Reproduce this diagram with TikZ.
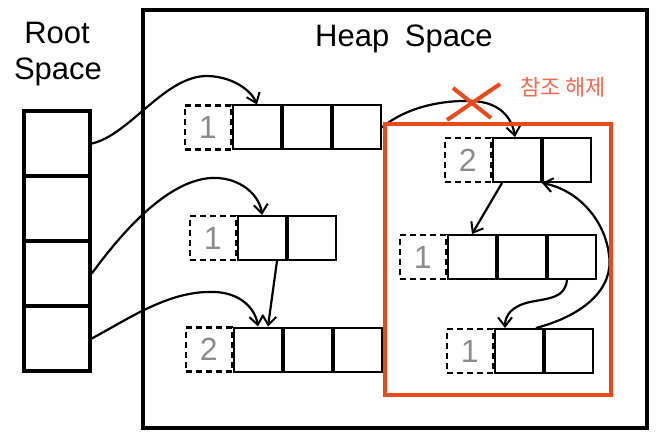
\documentclass[tikz,border=0pt]{standalone}
\usepackage{fontspec}
\setmainfont{Liberation Sans}
\newfontfamily\krfont{Noto Sans CJK KR}
\usetikzlibrary{positioning,arrows.meta}
\definecolor{cutred}{HTML}{E84A1B}
\definecolor{cutlabel}{HTML}{F26A50}
\definecolor{countgray}{HTML}{8C8C8C}
\begin{document}
\begin{tikzpicture}[x=1pt, y=-1pt,
	rootcell/.style={draw=black, line width=3.6pt, minimum width=66pt, minimum height=65pt, inner sep=0pt},
	cell/.style={draw=black, line width=2pt, minimum width=48pt, minimum height=44pt, inner sep=0pt},
	tag/.style={draw=black, line width=2.4pt, dash pattern=on 6pt off 4pt, minimum width=46pt, minimum height=44pt, inner sep=0pt, text=countgray, font=\fontsize{32}{32}\selectfont},
	ref/.style={line width=2.2pt, -{Straight Barb[length=9pt, width=14pt, line width=2pt]}},
	title/.style={font=\fontsize{31}{31}\selectfont, anchor=base}]
	\useasboundingbox (0,0) rectangle (662,441);

	% spaces
	\draw[line width=4pt] (143,10) rectangle (647,428);
	\node[title] (rootlbl)  at (57,44)  {Root};
	\node[title] (spacelbl) at (58,80)  {Space};
	\node[title] (heaplbl)  at (404,47) {Heap\enspace Space};

	% root space
	\node[rootcell] (r1) at (57,143.5) {};
	\node[rootcell] (r2) at (57,208.5) {};
	\node[rootcell] (r3) at (57,273.5) {};
	\node[rootcell] (r4) at (57,338.5) {};

	% heap objects, left column
	\node[cell]                   (a1) at (257,127.5) {};
	\node[cell, right=0pt of a1]  (a2) {};
	\node[cell, right=0pt of a2]  (a3) {};
	\node[tag, left=0pt of a1]    (a0) {1};

	\node[cell]                   (b1) at (262,238) {};
	\node[cell, right=0pt of b1]  (b2) {};
	\node[tag, left=0pt of b1]    (b0) {1};

	\node[cell]                   (c1) at (258,349.5) {};
	\node[cell, right=0pt of c1]  (c2) {};
	\node[cell, right=0pt of c2]  (c3) {};
	\node[tag, left=0pt of c1]    (c0) {2};

	% heap objects, right column
	\node[cell]                   (d1) at (517,160) {};
	\node[cell, right=0pt of d1]  (d2) {};
	\node[tag, left=0pt of d1]    (d0) {2};

	\node[cell]                   (e1) at (472,257) {};
	\node[cell, right=0pt of e1]  (e2) {};
	\node[cell, right=0pt of e2]  (e3) {};
	\node[tag, left=0pt of e1]    (e0) {1};

	\node[cell]                   (f1) at (519,351) {};
	\node[cell, right=0pt of f1]  (f2) {};
	\node[tag, left=0pt of f1]    (f0) {1};

	% references
	\draw[ref] (r1.east) .. controls (130,135) and (165,75) .. (208,76)
		.. controls (235,77) and (252,92) .. (a1.north);
	\draw[ref] (r3.east) .. controls (120,235) and (170,175) .. (218,178)
		.. controls (245,180) and (260,198) .. (b1.north);
	\draw[ref] (r4.east) .. controls (130,318) and (170,290) .. (215,292)
		.. controls (240,293) and (255,308) .. (c1.north);
	\draw[ref] ([xshift=15pt]b1.south) -- ([xshift=10pt]c1.north);
	\draw[ref] (a3.east) .. controls (405,108) and (440,100) .. (472,101)
		.. controls (500,102) and (512,118) .. ([xshift=-2pt]d1.north);
	\draw[ref] ([xshift=-15pt]d1.south) -- (e1.north);
	\draw[ref] ([xshift=-5pt]e3.south) .. controls (565,298) and (550,298) .. (530,302)
		.. controls (512,306) and (505,315) .. ([xshift=-14pt]f1.north);
	\draw[ref] ([xshift=-8pt]f1.north east) .. controls (585,315) and (614,288) .. (609,255)
		.. controls (605,220) and (578,190) .. (d2.south west);

	% released reference
	\draw[cutred, line width=4pt] (385,124) rectangle (611,395);
	\draw[cutred, line width=4pt] (447,120) -- (500,84);
	\draw[cutred, line width=4pt] (453,88) -- (491,118);
	\node[text=cutlabel, font=\krfont\fontsize{22}{22}\selectfont] (cutlbl) at (563,87) {참조 해제};
\end{tikzpicture}
\end{document}
